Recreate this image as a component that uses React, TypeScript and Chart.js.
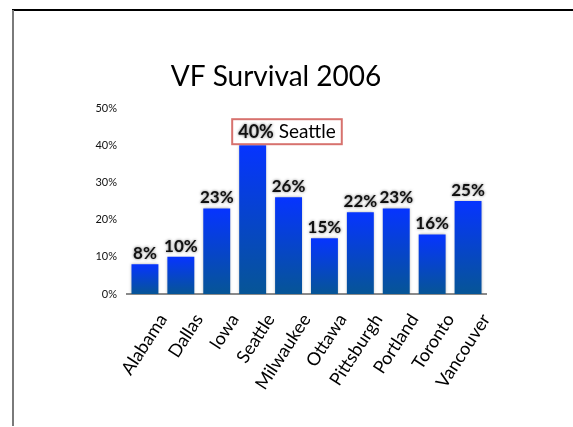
import React, { useEffect, useRef } from "react";
import { Chart, registerables } from "chart.js";

Chart.register(...registerables);

const categories: string[] = ["Alabama", "Dallas", "Iowa", "Seattle", "Milwaukee", "Ottawa", "Pittsburgh", "Portland", "Toronto", "Vancouver"];
const survivalPct: number[] = [8, 10, 23, 40, 26, 15, 22, 23, 16, 25];
const yTickValues: number[] = [0, 10, 20, 30, 40, 50];
const titleText = "VF Survival 2006";
const highlightCategory = "Seattle";

const FONT = "Lato, 'Open Sans', 'DejaVu Sans', sans-serif";

export default function App() {
  const ref = useRef<HTMLCanvasElement | null>(null);

  useEffect(() => {
    const canvas = ref.current;
    if (!canvas) return;

    const framePlugin = {
      id: "frame",
      beforeDraw(chart: any) {
        const ctx = chart.ctx;
        ctx.save();
        ctx.fillStyle = "#ffffff";
        ctx.fillRect(0, 0, chart.width, chart.height);
        ctx.fillStyle = "#000000";
        ctx.fillRect(12, 9, chart.width - 12, 2);
        ctx.fillStyle = "#7a7a7a";
        ctx.fillRect(12, 10, 2, chart.height - 11);
        ctx.fillStyle = "#000000";
        ctx.font = `28px ${FONT}`;
        ctx.textAlign = "center";
        ctx.textBaseline = "alphabetic";
        ctx.fillText(titleText, 276, 86);
        ctx.restore();
      },
    };

    const shadowPlugin = {
      id: "barShadow",
      beforeDatasetDraw(chart: any) {
        const ctx = chart.ctx;
        ctx.save();
        ctx.shadowColor = "rgba(0,0,0,0.3)";
        ctx.shadowBlur = 3;
      },
      afterDatasetDraw(chart: any) {
        chart.ctx.restore();
      },
    };

    const labelPlugin = {
      id: "valueLabels",
      afterDatasetsDraw(chart: any) {
        const ctx = chart.ctx;
        const meta = chart.getDatasetMeta(0);
        ctx.save();
        meta.data.forEach((bar: any, i: number) => {
          const txt = `${survivalPct[i]}%`;
          if (categories[i] === highlightCategory) {
            const left = bar.x - bar.width / 2;
            ctx.font = `bold 18px ${FONT}`;
            const w1 = ctx.measureText(txt).width;
            ctx.font = `19px ${FONT}`;
            const w2 = ctx.measureText(" " + highlightCategory).width;
            const bx = left - 7;
            const bw = w1 + w2 + 12;
            const by = bar.y - 26;
            ctx.fillStyle = "#ffffff";
            ctx.fillRect(bx, by, bw, 25);
            ctx.strokeStyle = "#d7726e";
            ctx.lineWidth = 2;
            ctx.strokeRect(bx, by, bw, 25);
            ctx.textBaseline = "alphabetic";
            ctx.textAlign = "left";
            ctx.save();
            ctx.shadowColor = "rgba(0,0,0,0.55)";
            ctx.shadowBlur = 3;
            ctx.font = `bold 18px ${FONT}`;
            ctx.fillStyle = "#111";
            ctx.fillText(txt, left - 1, by + 19);
            ctx.restore();
            ctx.font = `19px ${FONT}`;
            ctx.fillStyle = "#000";
            ctx.fillText(" " + highlightCategory, left - 1 + w1, by + 19);
          } else {
            ctx.save();
            ctx.shadowColor = "rgba(0,0,0,0.55)";
            ctx.shadowBlur = 3;
            ctx.font = `bold 17px ${FONT}`;
            ctx.fillStyle = "#111";
            ctx.textAlign = "center";
            ctx.textBaseline = "alphabetic";
            ctx.fillText(txt, bar.x, bar.y - 5);
            ctx.restore();
          }
        });
        ctx.restore();
      },
    };

    const chart = new Chart(canvas, {
      type: "bar",
      data: {
        labels: categories,
        datasets: [
          {
            data: survivalPct,
            backgroundColor: (c: any) => {
              const ch = c.chart;
              if (!ch.chartArea || c.parsed == null) return "#0033ff";
              const ys = ch.scales.y;
              const top = ys.getPixelForValue(c.parsed.y);
              const base = ys.getPixelForValue(0);
              const g = ch.ctx.createLinearGradient(0, top, 0, base);
              g.addColorStop(0, "#0634ff");
              g.addColorStop(1, "#065596");
              return g;
            },
            borderWidth: 0,
            barPercentage: 0.75,
            categoryPercentage: 1,
          },
        ],
      },
      options: {
        animation: false,
        responsive: false,
        maintainAspectRatio: false,
        devicePixelRatio: 1,
        layout: { padding: { top: 108, left: 0, right: 87, bottom: 0 } },
        plugins: {
          legend: { display: false },
          title: { display: false },
          tooltip: { enabled: false },
        },
        scales: {
          x: {
            grid: { display: false, drawTicks: false },
            border: { display: true, color: "#8a8a8a", width: 2 },
            ticks: {
              color: "#000",
              font: { family: FONT, size: 18 },
              minRotation: 57,
              maxRotation: 57,
              padding: 16,
              labelOffset: 18,
              autoSkip: false,
            },
            afterFit: (s: any) => {
              s.height = 133;
            },
          },
          y: {
            min: 0,
            max: 50,
            afterBuildTicks: (s: any) => {
              s.ticks = yTickValues.map((v) => ({ value: v }));
            },
            grid: { display: false, drawTicks: false },
            border: { display: false },
            ticks: {
              color: "#111",
              font: { family: FONT, size: 11 },
              padding: 10,
              callback: (v: any) => `${v}%`,
            },
            afterFit: (s: any) => {
              s.width = 127;
            },
          },
        },
      },
      plugins: [framePlugin, shadowPlugin, labelPlugin],
    } as any);

    return () => chart.destroy();
  }, []);

  return (
    <div style={{ position: "fixed", left: 0, top: 0, width: 573, height: 427 }}>
      <canvas ref={ref} width={573} height={427} style={{ width: 573, height: 427, display: "block" }} />
    </div>
  );
}
